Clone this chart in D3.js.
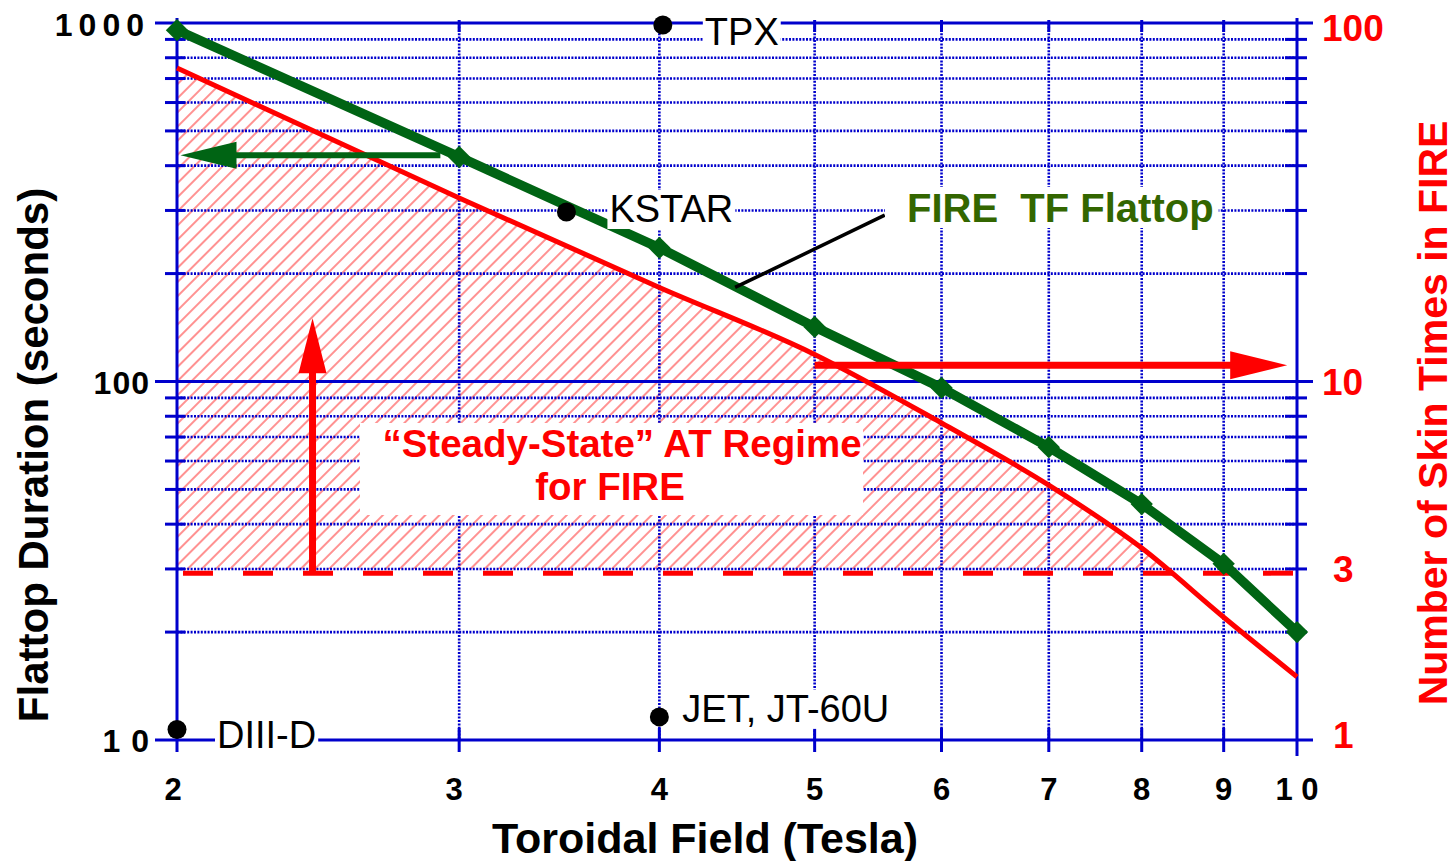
<!DOCTYPE html>
<html><head><meta charset="utf-8">
<script src="https://cdn.jsdelivr.net/npm/d3@7"></script>
<style>
body{margin:0;background:#fff}
svg{display:block}
text{font-family:"Liberation Sans",Arial,sans-serif}
</style>
</head><body>
<svg id="c" width="1455" height="861"></svg>
<script>
// ---------- data ----------
const fields = [2, 3, 4, 5, 6, 7, 8, 9, 10];                       // Tesla
const flattop = [955, 423, 236, 142, 96, 65.6, 45.5, 31, 20];       // seconds (left axis)
const skinTimes = [74.9, 32.5, 18.3, 11.9, 7.66, 5.14, 3.43, 2.2, 1.5]; // number of skin times (right axis)
const xTicks = [2, 3, 4, 5, 6, 7, 8, 9, 10];
const xTickLabels = ["2", "3", "4", "5", "6", "7", "8", "9", "1 0"];
const yTicks = [10, 100, 1000];
const yTickLabels = ["1 0", "100", "1000"];
const yMinor = [20, 30, 40, 50, 60, 70, 80, 90, 200, 300, 400, 500, 600, 700, 800, 900];
const rTicks = [1, 3, 10, 100];
const rTickLabels = ["1", "3", "10", "100"];
const devices = ["DIII-D", "TPX", "KSTAR", "JET, JT-60U"];
const deviceField = [2.0, 4.02, 3.5, 4.0];
const deviceFlattop = [10.7, 987, 297, 11.6];
const skinThreshold = 2.92;      // dashed "3 skin times" line (right axis)
const hatchFloor = 3;            // bottom of hatched regime (right axis)
const arrowToRight = [[5, 11.1], [9.86, 11.1]];   // right axis units
const arrowToLeft = [[2.92, 428], [2.01, 428]];   // left axis units
const arrowUpward = [[2.43, 2.92], [2.43, 15]];   // right axis units
const pointerLine = [[5.53, 291], [4.46, 183]];   // left axis units

// ---------- layout ----------
const svg = d3.select("#c");
const x = d3.scaleLog().domain([2, 10]).range([177, 1297]);
const y = d3.scaleLog().domain([10, 1000]).range([740, 23]);
const yR = d3.scaleLog().domain([1, 100]).range([740, 23]);
const BLUE = "#0000cc", RED = "#ff0000", GREEN = "#006414", TGREEN = "#336600";
const X0 = x.range()[0], X1 = x.range()[1], Y0 = y.range()[0], Y1 = y.range()[1];

const defs = svg.append("defs");
const pat = defs.append("pattern").attr("id", "hatch").attr("patternUnits", "userSpaceOnUse")
  .attr("width", 10).attr("height", 10).attr("patternTransform", "rotate(45)");
pat.append("line").attr("x1", 5).attr("y1", 0).attr("x2", 5).attr("y2", 10)
  .attr("stroke", "#ff4646").attr("stroke-width", 1.6).attr("stroke-opacity", 0.75);
defs.append("clipPath").attr("id", "hclip").append("rect")
  .attr("x", X0).attr("y", Y1).attr("width", X1 - X0).attr("height", yR(hatchFloor) - Y1);

// hatched regime
const idx = d3.range(fields.length);
svg.append("path")
  .datum(idx)
  .attr("clip-path", "url(#hclip)")
  .attr("fill", "url(#hatch)")
  .attr("d", d3.area().x(i => x(fields[i])).y0(Y0).y1(i => yR(skinTimes[i])).curve(d3.curveMonotoneX));

// dotted grid
const grid = svg.append("g").attr("stroke", BLUE).attr("stroke-width", 2.6).attr("stroke-dasharray", "2,1.4");
grid.selectAll(".gx").data(xTicks.slice(1, -1)).join("line")
  .attr("x1", d => x(d)).attr("x2", d => x(d)).attr("y1", Y1).attr("y2", Y0);
grid.selectAll(".gy").data(yMinor).join("line")
  .attr("x1", X0).attr("x2", X1).attr("y1", d => y(d)).attr("y2", d => y(d));

// white box and regime text
svg.append("rect").attr("x", 360).attr("y", 423).attr("width", 503).attr("height", 92).attr("fill", "#fff");
svg.append("text").attr("x", 622).attr("y", 457).attr("text-anchor", "middle")
  .attr("font-size", 38.5).attr("font-weight", "bold").attr("fill", RED).text("\u201CSteady-State\u201D AT Regime");
svg.append("text").attr("x", 610).attr("y", 500).attr("text-anchor", "middle")
  .attr("font-size", 38.5).attr("font-weight", "bold").attr("fill", RED).text("for FIRE");

// axes frame
const ax = svg.append("g").attr("stroke", BLUE).attr("stroke-width", 3).attr("fill", "none");
ax.selectAll(".hy").data(yTicks).join("line")
  .attr("x1", X0 - 22).attr("x2", X1 + 16).attr("y1", d => y(d)).attr("y2", d => y(d));
ax.append("line").attr("x1", X0).attr("x2", X0).attr("y1", Y1 - 5).attr("y2", Y0 + 12);
ax.append("line").attr("x1", X1).attr("x2", X1).attr("y1", Y1 - 5).attr("y2", Y0 + 16);
ax.selectAll(".ml").data(yMinor).join("line")
  .attr("x1", X0 - 12).attr("x2", X0 + 8).attr("y1", d => y(d)).attr("y2", d => y(d));
ax.selectAll(".mr").data(yMinor).join("line")
  .attr("x1", X1 - 12).attr("x2", X1 + 10).attr("y1", d => y(d)).attr("y2", d => y(d));
ax.selectAll(".tb").data(xTicks.slice(1, -1)).join("line")
  .attr("x1", d => x(d)).attr("x2", d => x(d)).attr("y1", Y0 - 12).attr("y2", Y0 + 12);
ax.selectAll(".tt").data(xTicks.slice(1, -1)).join("line")
  .attr("x1", d => x(d)).attr("x2", d => x(d)).attr("y1", Y1 - 3).attr("y2", Y1 + 9);

// tick labels
svg.append("g").selectAll("text").data(xTicks).join("text")
  .attr("x", d => x(d) - (d === 2 ? 4 : d === 3 ? 5 : 0)).attr("y", 800).attr("text-anchor", "middle")
  .attr("font-size", 31).attr("font-weight", "bold").attr("fill", "#000")
  .text((d, i) => xTickLabels[i]);
svg.append("g").selectAll("text").data(yTicks).join("text")
  .attr("x", 150).attr("y", d => y(d) + 12 + (d === 1000 ? 1 : 0)).attr("text-anchor", "end")
  .attr("font-size", 32).attr("font-weight", "bold").attr("fill", "#000")
  .attr("letter-spacing", (d) => d === 1000 ? 6 : 1)
  .text((d, i) => yTickLabels[i]);
svg.append("g").selectAll("text").data(rTicks).join("text")
  .attr("x", d => d < 10 ? 1333 : 1322)
  .attr("y", d => yR(d) + 13 + (d === 100 ? 5 : 0) - (d === 1 ? 5 : 0))
  .attr("font-size", 37).attr("font-weight", "bold").attr("fill", RED)
  .text((d, i) => rTickLabels[i]);

// axis titles
svg.append("text").attr("transform", "translate(48,455) rotate(-90)").attr("text-anchor", "middle")
  .attr("font-size", 42).attr("font-weight", "bold").attr("fill", "#000").text("Flattop Duration (seconds)");
svg.append("text").attr("transform", "translate(1447,413) rotate(-90)").attr("text-anchor", "middle")
  .attr("font-size", 41).attr("font-weight", "bold").attr("fill", RED).text("Number of Skin Times in FIRE");
svg.append("text").attr("x", 705).attr("y", 853).attr("text-anchor", "middle")
  .attr("font-size", 43).attr("font-weight", "bold").attr("fill", "#000").text("Toroidal Field (Tesla)");

// dashed 3-skin-time line
svg.append("line").attr("x1", X0).attr("x2", X1).attr("y1", yR(skinThreshold)).attr("y2", yR(skinThreshold))
  .attr("stroke", RED).attr("stroke-width", 5).attr("stroke-dasharray", "30,30").attr("stroke-dashoffset", 54);

// red skin-time curve
svg.append("path").datum(idx).attr("fill", "none").attr("stroke", RED).attr("stroke-width", 5)
  .attr("d", d3.line().x(i => x(fields[i])).y(i => yR(skinTimes[i])).curve(d3.curveMonotoneX));

// green flattop curve
svg.append("path").datum(idx).attr("fill", "none").attr("stroke", GREEN).attr("stroke-width", 9.5)
  .attr("stroke-linejoin", "round")
  .attr("d", d3.line().x(i => x(fields[i])).y(i => y(flattop[i])));
svg.append("g").selectAll("path").data(idx).join("path")
  .attr("transform", i => `translate(${x(fields[i])},${y(flattop[i])}) rotate(45)`)
  .attr("d", d3.symbol(d3.symbolSquare, 250)()).attr("fill", GREEN);

// arrows
function arrow(p1, p2, color, w, hl, hw) {
  const dx = p2[0] - p1[0], dy = p2[1] - p1[1], L = Math.hypot(dx, dy);
  const ux = dx / L, uy = dy / L, nx = -uy, ny = ux;
  const bx = p2[0] - ux * hl, by = p2[1] - uy * hl;
  svg.append("line").attr("x1", p1[0]).attr("y1", p1[1]).attr("x2", bx + ux).attr("y2", by + uy)
    .attr("stroke", color).attr("stroke-width", w);
  svg.append("path").attr("fill", color)
    .attr("d", `M${p2[0]},${p2[1]}L${bx + nx * hw},${by + ny * hw}L${bx - nx * hw},${by - ny * hw}Z`);
}
arrow([x(arrowToRight[0][0]), yR(arrowToRight[0][1])], [x(arrowToRight[1][0]), yR(arrowToRight[1][1])], RED, 7, 57, 14);
arrow([x(arrowToLeft[0][0]), y(arrowToLeft[0][1])], [x(arrowToLeft[1][0]), y(arrowToLeft[1][1])], GREEN, 6, 56, 13.5);
arrow([x(arrowUpward[0][0]), yR(arrowUpward[0][1])], [x(arrowUpward[1][0]), yR(arrowUpward[1][1])], RED, 7, 55, 14);

// pointer line to FIRE curve
svg.append("line")
  .attr("x1", x(pointerLine[0][0])).attr("y1", y(pointerLine[0][1]))
  .attr("x2", x(pointerLine[1][0])).attr("y2", y(pointerLine[1][1]))
  .attr("stroke", "#000").attr("stroke-width", 3.5);

// FIRE label
const fire = svg.append("text").attr("x", 907).attr("y", 222).attr("font-size", 40).attr("font-weight", "bold")
  .attr("fill", TGREEN).attr("xml:space", "preserve").style("white-space", "pre").text("FIRE  TF Flattop");
{
  const b = fire.node().getBBox();
  svg.insert("rect", () => fire.node()).attr("x", b.x - 22).attr("y", b.y + 1).attr("width", b.width + 27).attr("height", b.height - 3).attr("fill", "#fff");
}

// devices
const labelOffset = [[40, 19], [42, 20], [43, 10], [23, 5]];
devices.forEach((name, i) => {
  const cx = x(deviceField[i]), cy = y(deviceFlattop[i]);
  const t = svg.append("text").attr("x", cx + labelOffset[i][0]).attr("y", cy + labelOffset[i][1])
    .attr("font-size", 38).attr("fill", "#000").text(name);
  const b = t.node().getBBox();
  svg.insert("rect", () => t.node()).attr("x", b.x - 2).attr("y", b.y + 2).attr("width", b.width + 4).attr("height", b.height - 3).attr("fill", "#fff");
  svg.append("circle").attr("cx", cx).attr("cy", cy).attr("r", 9.5).attr("fill", "#000");
});
</script>
</body></html>
